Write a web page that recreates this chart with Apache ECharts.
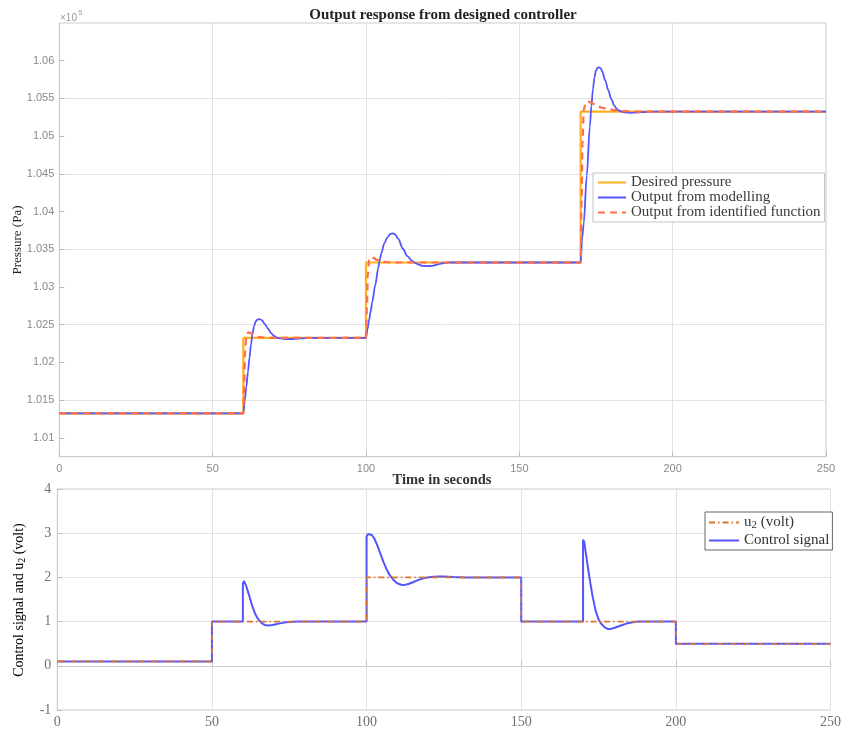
<!DOCTYPE html>
<html>
<head>
<meta charset="utf-8">
<script src="https://cdn.jsdelivr.net/npm/echarts@6/dist/echarts.min.js"></script>
<style>html,body{margin:0;padding:0;background:#fff;}#c{width:844px;height:729px;}</style>
</head>
<body>
<div id="c"></div>
<script>
// ---- Data ----
const pressureTicks = [1.01, 1.015, 1.02, 1.025, 1.03, 1.035, 1.04, 1.045, 1.05, 1.055, 1.06];
const timeTicks = [0, 50, 100, 150, 200, 250];
const voltTicks = [-1, 0, 1, 2, 3, 4];

const desiredT = [0, 60, 60, 100, 100, 170, 170, 250];
const desiredP = [1.01325, 1.01325, 1.02325, 1.02325, 1.03325, 1.03325, 1.05325, 1.05325];

const modelT = [0, 60, 60.5, 61, 61.5, 62, 62.5, 63, 63.5, 64, 64.5, 65.2, 66, 67, 68, 69, 70, 71, 72, 73.5, 75, 77, 79, 82,
  100, 100.5, 101, 101.5, 102, 103, 104, 104.5, 105, 106, 107, 108, 108.7, 109.5, 110.5, 112, 113.5, 115, 116, 117, 118.5, 120, 121.5, 123, 125, 127,
  170, 170.5, 171, 172, 173, 173.5, 174, 174.5, 175, 175.5, 176, 176.5, 177, 178, 179, 180, 181, 182, 183, 184, 185, 186.5, 188, 190, 193, 250];
const modelP = [1.01325, 1.01325, 1.0150, 1.0168, 1.0187, 1.0206, 1.0224, 1.0238, 1.0248, 1.0254, 1.02565, 1.02575, 1.0256, 1.0251, 1.0245, 1.0239, 1.0235, 1.0233, 1.02318, 1.0231, 1.02308, 1.02313, 1.0232, 1.02325,
  1.02325, 1.0244, 1.0256, 1.0267, 1.0279, 1.0302, 1.0325, 1.0336, 1.0345, 1.0358, 1.0366, 1.03703, 1.0371, 1.03698, 1.0364, 1.0351, 1.0341, 1.03345, 1.0332, 1.0330, 1.0328, 1.03277, 1.0328, 1.03295, 1.03315, 1.03325,
  1.03325, 1.0365, 1.0384, 1.0448, 1.0513, 1.0540, 1.0562, 1.0578, 1.0587, 1.05905, 1.05912, 1.0590, 1.0586, 1.0574, 1.0561, 1.0549, 1.0540, 1.0535, 1.0533, 1.05318, 1.05312, 1.05309, 1.05312, 1.05318, 1.05325, 1.05325];

const identT = [0, 60, 60.3, 60.6, 61, 61.6, 62.5, 63.5, 65, 67, 70,
  100, 100.3, 100.6, 101, 101.6, 102.5, 103.5, 105, 107, 110,
  170, 170.3, 170.6, 171, 171.7, 172.5, 173.5, 175, 177, 179, 181, 184, 188, 250];
const identP = [1.01325, 1.01325, 1.0170, 1.0215, 1.0236, 1.0240, 1.02385, 1.0236, 1.0234, 1.02328, 1.02325,
  1.02325, 1.0270, 1.0315, 1.0336, 1.0340, 1.03385, 1.0336, 1.0334, 1.03328, 1.03325,
  1.03325, 1.0410, 1.0490, 1.0535, 1.0545, 1.05457, 1.0544, 1.0541, 1.05375, 1.0536, 1.05345, 1.05332, 1.05325, 1.05325];

const u2T = [0, 50, 50, 100, 100, 150, 150, 200, 200, 250];
const u2V = [0.1, 0.1, 1, 1, 2, 2, 1, 1, 0.5, 0.5];

const ctrlT = [0, 50, 50, 60, 60, 60.3, 60.7, 61, 62, 63, 64, 65, 66, 67, 68, 69, 70, 72, 74, 76, 78,
  100, 100, 100.4, 101, 101.7, 102.5, 103.5, 104.5, 105.5, 106.5, 107.5, 108.5, 109.5, 110.5, 111.5, 112.5, 113.5, 115, 117, 119, 121, 123, 125, 128, 132,
  150, 150, 170, 170, 170.4, 171, 172, 173, 174, 175, 176, 177, 178, 179, 180, 182, 184, 186, 188, 200, 200, 250];
const ctrlV = [0.1, 0.1, 1, 1, 1.85, 1.92, 1.9, 1.82, 1.6, 1.36, 1.17, 1.05, 0.97, 0.925, 0.91, 0.915, 0.93, 0.96, 0.985, 0.997, 1,
  1, 2.92, 2.98, 2.99, 2.96, 2.88, 2.72, 2.53, 2.34, 2.18, 2.05, 1.96, 1.89, 1.85, 1.83, 1.835, 1.85, 1.89, 1.95, 1.99, 2.01, 2.02, 2.02, 2.01, 2.0,
  2.0, 1, 1, 2.85, 2.8, 2.5, 2.02, 1.6, 1.26, 1.05, 0.94, 0.87, 0.835, 0.835, 0.855, 0.905, 0.955, 0.985, 1, 1, 0.5, 0.5];

const zip = (a, b) => a.map((t, i) => [t, b[i]]);

// ---- Styles ----
const SERIF = 'Liberation Serif';
const SANS = 'Liberation Sans';
const gridCol = '#e2e2e2';
const boxCol = '#cccccc';

const chart = echarts.init(document.getElementById('c'), null, {renderer: 'canvas'});

const option = {
  backgroundColor: '#fff',
  animation: false,
  grid: [
    {left: 59.3, right: 18, top: 23, bottom: 272.3, show: true, borderColor: boxCol, borderWidth: 1, backgroundColor: '#fff', containLabel: false},
    {left: 57.3, right: 12, top: 489, bottom: 18.3, show: true, borderColor: boxCol, borderWidth: 1, backgroundColor: '#fff', containLabel: false}
  ],
  xAxis: [
    {type: 'value', gridIndex: 0, min: 0, max: 250, interval: 50,
     axisLine: {show: true, lineStyle: {color: boxCol}},
     axisTick: {show: true, inside: true, length: 5, lineStyle: {color: '#bdbdbd'}},
     axisLabel: {fontFamily: SANS, fontSize: 11, color: '#8a8a8a', margin: 7, showMaxLabel: true},
     splitLine: {show: true, lineStyle: {color: gridCol, width: 1}}},
    {type: 'value', gridIndex: 1, min: 0, max: 250, interval: 50,
     axisLine: {show: true, lineStyle: {color: boxCol}},
     axisTick: {show: true, inside: true, length: 5, lineStyle: {color: '#bdbdbd'}},
     axisLabel: {fontFamily: SERIF, fontSize: 14, color: '#707070', margin: 5},
     splitLine: {show: true, lineStyle: {color: gridCol, width: 1}}}
  ],
  yAxis: [
    {type: 'value', gridIndex: 0, min: 1.0075, max: 1.065, interval: 0.0025,
     axisLine: {show: true, lineStyle: {color: boxCol}},
     axisTick: {show: true, inside: true, length: 5, lineStyle: {color: '#bdbdbd'}, customValues: pressureTicks},
     axisLabel: {fontFamily: SANS, fontSize: 11, color: '#8a8a8a', margin: 5, customValues: pressureTicks,
       formatter: v => {
         const k = v * 200;
         if (Math.abs(k - Math.round(k)) > 1e-6) return '';
         return String(+v.toFixed(4));
       }},
     splitLine: {show: true, lineStyle: {color: ['rgba(0,0,0,0)', gridCol], width: 1}}},
    {type: 'value', gridIndex: 1, min: -1, max: 4, interval: 1,
     axisLine: {show: true, lineStyle: {color: boxCol}},
     axisTick: {show: true, inside: true, length: 5, lineStyle: {color: '#bdbdbd'}},
     axisLabel: {fontFamily: SERIF, fontSize: 14, color: '#707070', margin: 6},
     splitLine: {show: true, lineStyle: {color: gridCol, width: 1}}}
  ],
  legend: [
    {data: ['Desired pressure', 'Output from modelling', 'Output from identified function'],
     orient: 'vertical', left: 593, top: 173, itemWidth: 28, itemHeight: 15, itemGap: 0,
     padding: [2, 4, 2, 4], borderColor: '#c4c4c4', borderWidth: 1, backgroundColor: '#fff', borderRadius: 0,
     itemStyle: {opacity: 0},
     textStyle: {fontFamily: SERIF, fontSize: 15, color: '#3a3a3a', lineHeight: 15}},
    {data: ['u2 (volt)', 'Control signal'],
     orient: 'vertical', left: 705, top: 512, itemWidth: 30, itemHeight: 17, itemGap: 2,
     padding: [2, 3, 2, 3], borderColor: '#666', borderWidth: 1, backgroundColor: '#fff', borderRadius: 0,
     itemStyle: {opacity: 0},
     formatter: n => n === 'u2 (volt)' ? '{n|u}{s|2}{n| (volt)}' : '{n|' + n + '}',
     textStyle: {fontFamily: SERIF, fontSize: 15, color: '#333',
       rich: {n: {fontFamily: SERIF, fontSize: 15, color: '#333', lineHeight: 17},
              s: {fontFamily: SERIF, fontSize: 11, color: '#333', verticalAlign: 'bottom', lineHeight: 11, padding: [6, 0, 0, 0]}}}}
  ],
  series: [
    {name: 'Desired pressure', type: 'line', xAxisIndex: 0, yAxisIndex: 0, data: zip(desiredT, desiredP),
     symbol: 'none', lineStyle: {color: '#ffb01f', width: 2.2}, itemStyle: {color: '#ffb01f'}, z: 2},
    {name: 'Output from modelling', type: 'line', xAxisIndex: 0, yAxisIndex: 0, data: zip(modelT, modelP),
     symbol: 'none', smooth: 0.3, smoothMonotone: 'x', lineStyle: {color: '#5454ff', width: 1.8}, itemStyle: {color: '#5454ff'}, z: 3},
    {name: 'Output from identified function', type: 'line', xAxisIndex: 0, yAxisIndex: 0, data: zip(identT, identP),
     symbol: 'none', smooth: 0.3, smoothMonotone: 'x', lineStyle: {color: '#ff6e4e', width: 2.2, type: [7, 5]}, itemStyle: {color: '#ff6e4e'}, z: 4},
    {name: 'Control signal', type: 'line', xAxisIndex: 1, yAxisIndex: 1, data: zip(ctrlT, ctrlV),
     symbol: 'none', lineStyle: {color: '#5454ff', width: 2}, itemStyle: {color: '#5454ff'}, z: 3},
    {name: 'u2 (volt)', type: 'line', xAxisIndex: 1, yAxisIndex: 1, data: zip(u2T, u2V),
     symbol: 'none', lineStyle: {color: '#d9772e', width: 1.6, type: [6, 3, 1.5, 3]}, itemStyle: {color: '#d9772e'}, z: 4}
  ],
  graphic: [
    {type: 'text', x: 443, y: 15, style: {text: 'Output response from designed controller', font: 'bold 15px "Liberation Serif"', fill: '#222', align: 'center', verticalAlign: 'middle'}},
    {type: 'text', x: 442, y: 480, style: {text: 'Time in seconds', font: 'bold 14.5px "Liberation Serif"', fill: '#333', align: 'center', verticalAlign: 'middle'}},
    {type: 'text', x: 60, y: 18, style: {text: '×10', font: '10px "Liberation Sans"', fill: '#9a9a9a', align: 'left', verticalAlign: 'middle'}},
    {type: 'text', x: 78.5, y: 13.5, style: {text: '5', font: '7px "Liberation Sans"', fill: '#9a9a9a', align: 'left', verticalAlign: 'middle'}},
    {type: 'text', x: 18, y: 240, rotation: Math.PI / 2, style: {text: 'Pressure (Pa)', font: '13px "Liberation Serif"', fill: '#222', align: 'center', verticalAlign: 'middle'}},
    {type: 'text', x: 19, y: 600, rotation: Math.PI / 2, style: {text: '{n|Control signal and u}{s|2}{n| (volt)}', align: 'center', verticalAlign: 'middle',
      rich: {n: {fontFamily: SERIF, fontSize: 14, color: '#222', lineHeight: 16}, s: {fontFamily: SERIF, fontSize: 10, color: '#222', verticalAlign: 'bottom', lineHeight: 10, padding: [6, 0, 0, 0]}}}}
  ]
};
chart.setOption(option);
</script>
</body>
</html>
